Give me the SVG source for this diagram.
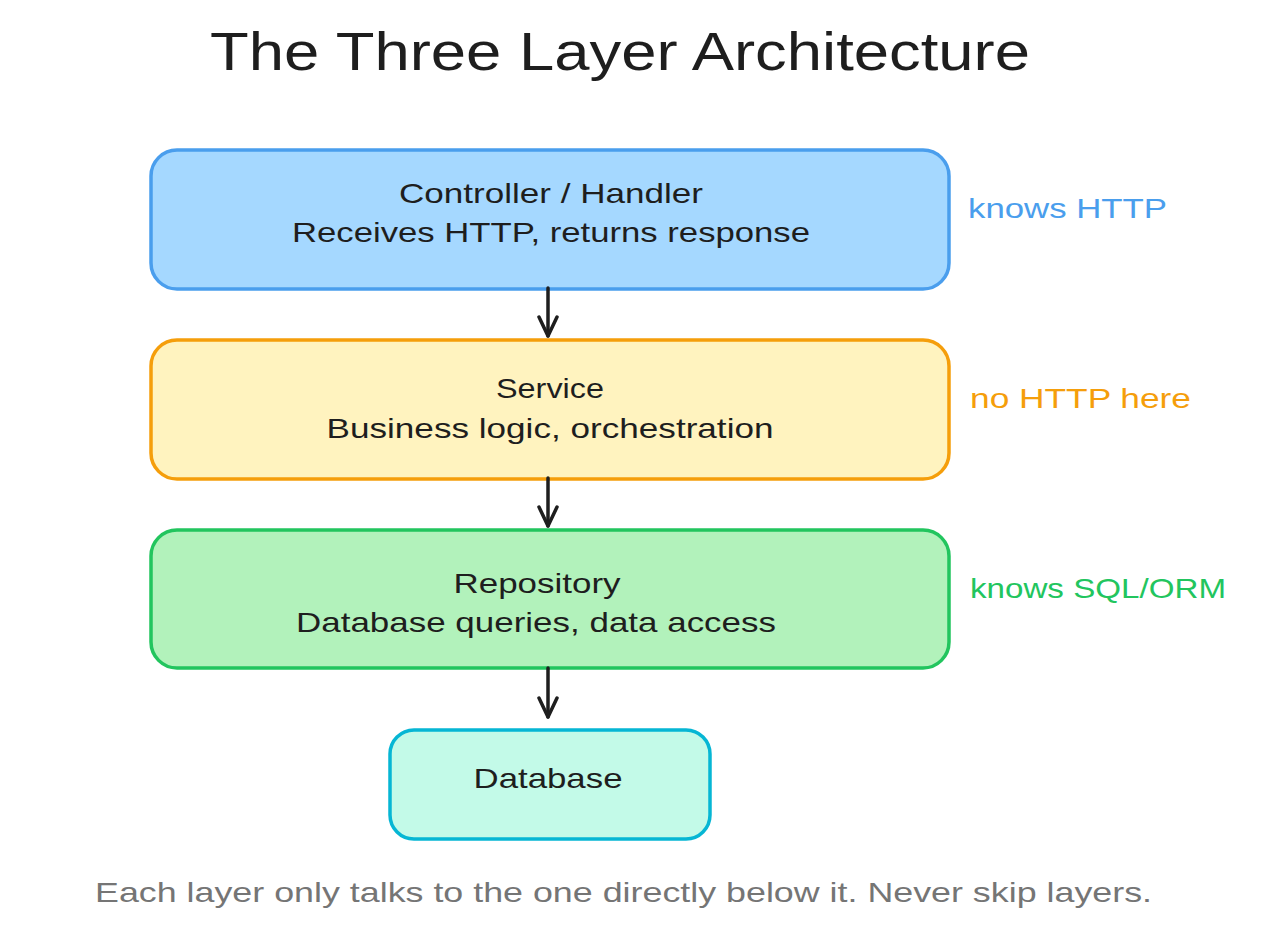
<svg xmlns="http://www.w3.org/2000/svg" width="1278" height="934" viewBox="0 0 1278 934">
<defs>
<style>
text{font-family:"Liberation Sans","DejaVu Sans",sans-serif;}
.t{font-size:28px;fill:#1e1e1e;text-anchor:middle;}
.side{font-size:28px;}
.box{stroke-width:3.5;stroke-linejoin:round;}
.arr{stroke:#1e1e1e;stroke-width:3.5;fill:none;stroke-linecap:round;stroke-linejoin:round;}
</style>
<marker id="ah" viewBox="0 0 24 24" refX="21" refY="12" markerWidth="24" markerHeight="24" markerUnits="userSpaceOnUse" orient="auto">
<path d="M2,3 L21,12 L2,21" fill="none" stroke="#1e1e1e" stroke-width="3.5" stroke-linecap="round" stroke-linejoin="round"/>
</marker>
</defs>
<rect width="1278" height="934" fill="#ffffff"/>
<text x="620" y="70" style="font-size:54px;fill:#1e1e1e" text-anchor="middle" textLength="820" lengthAdjust="spacingAndGlyphs">The Three Layer Architecture</text>

<g id="controller">
<rect class="box" x="151" y="150" width="798" height="139" rx="26" fill="#a5d8ff" stroke="#4a9eed"/>
<text class="t" x="551" y="203" textLength="304" lengthAdjust="spacingAndGlyphs">Controller / Handler</text>
<text class="t" x="551" y="242" textLength="518" lengthAdjust="spacingAndGlyphs">Receives HTTP, returns response</text>
</g>
<g id="service">
<rect class="box" x="151" y="340" width="798" height="139" rx="26" fill="#fff3bf" stroke="#f59e0b"/>
<text class="t" x="550" y="398" textLength="108" lengthAdjust="spacingAndGlyphs">Service</text>
<text class="t" x="550" y="438" textLength="447" lengthAdjust="spacingAndGlyphs">Business logic, orchestration</text>
</g>
<g id="repository">
<rect class="box" x="151" y="530" width="798" height="138" rx="26" fill="#b2f2bb" stroke="#22c55e"/>
<text class="t" x="537" y="593" textLength="167" lengthAdjust="spacingAndGlyphs">Repository</text>
<text class="t" x="536" y="632" textLength="480" lengthAdjust="spacingAndGlyphs">Database queries, data access</text>
</g>
<g id="database">
<rect class="box" x="390" y="730" width="320" height="109" rx="24" fill="#c3fae8" stroke="#06b6d4"/>
<text class="t" x="548" y="788" textLength="149" lengthAdjust="spacingAndGlyphs">Database</text>
</g>

<g id="label-http">
<text class="side" x="968" y="218" fill="#4a9eed" textLength="199" lengthAdjust="spacingAndGlyphs">knows HTTP</text>
</g>
<g id="label-nohttp">
<text class="side" x="970" y="408" fill="#f59e0b" textLength="221" lengthAdjust="spacingAndGlyphs">no HTTP here</text>
</g>
<g id="label-sql">
<text class="side" x="970" y="598" fill="#22c55e" textLength="256" lengthAdjust="spacingAndGlyphs">knows SQL/ORM</text>
</g>

<g id="connectors">
<path class="arr" d="M548,288 L548,336" marker-end="url(#ah)"/>
<path class="arr" d="M548,478 L548,526" marker-end="url(#ah)"/>
<path class="arr" d="M548,668 L548,717" marker-end="url(#ah)"/>
</g>

<g id="footer">
<text x="95" y="902" style="font-size:28px;fill:#757575" textLength="1057" lengthAdjust="spacingAndGlyphs">Each layer only talks to the one directly below it. Never skip layers.</text>
</g>
</svg>
